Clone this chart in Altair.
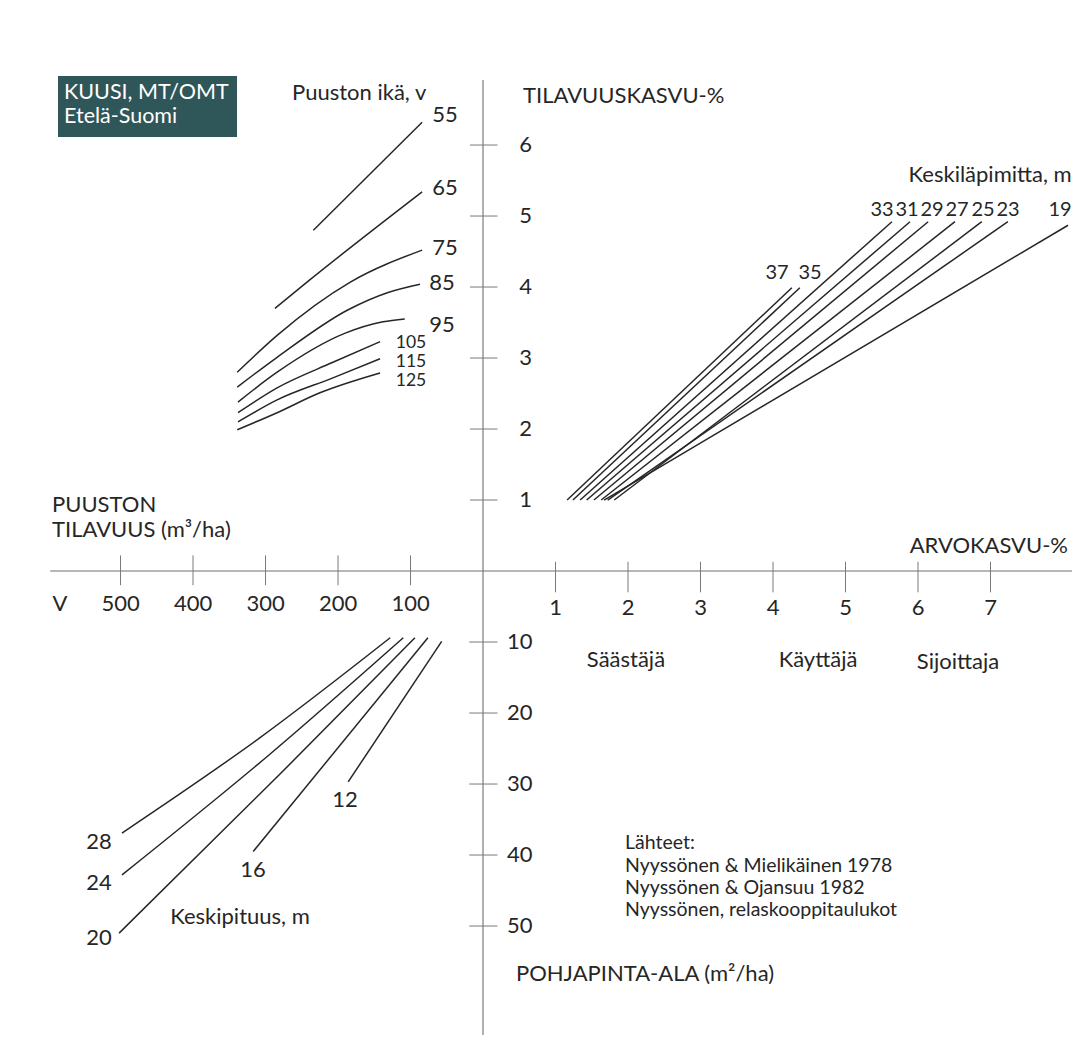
import altair as alt
import pandas as pd

# ---------------- data ----------------
# Upper-left quadrant: stand age curves, volume V (m3/ha) vs tilavuuskasvu-%
age_labels = ["55", "65", "75", "85", "95", "105", "115", "125"]
age_V = [
    [234, 84],
    [287, 239, 84],
    [339, 284, 183, 84],
    [339, 284, 186, 132, 87],
    [338, 284, 190, 138, 108],
    [338, 284, 207, 142],
    [338, 284, 207, 142],
    [339, 284, 225, 142],
]
age_p = [
    [4.80, 6.32],
    [3.70, 4.10, 5.34],
    [2.80, 3.32, 4.07, 4.52],
    [2.59, 3.01, 3.68, 3.92, 4.04],
    [2.38, 2.80, 3.35, 3.51, 3.55],
    [2.23, 2.58, 2.94, 3.23],
    [2.10, 2.41, 2.72, 2.99],
    [1.99, 2.23, 2.51, 2.79],
]

# Upper-right quadrant: mean diameter lines, arvokasvu-% vs tilavuuskasvu-%
dia_labels = ["37", "35", "33", "31", "29", "27", "25", "23", "19"]
dia_a_start = [1.16, 1.24, 1.34, 1.43, 1.53, 1.63, 1.81, 1.72, 1.67]
dia_p_start = [1.0, 1.0, 1.0, 1.0, 1.0, 1.0, 1.0, 1.0, 1.0]
dia_a_end = [4.26, 4.37, 5.64, 5.89, 6.14, 6.51, 6.88, 7.24, 8.07]
dia_p_end = [3.99, 3.99, 4.92, 4.92, 4.92, 4.92, 4.92, 4.92, 4.87]

# Lower-left quadrant: mean height lines, volume V vs basal area G (m2/ha)
hgt_labels = ["28", "24", "20", "16", "12"]
hgt_V = [[128, 308, 498], [110, 294, 498], [94, 280, 502], [76, 317], [57, 186]]
hgt_G = [[9.4, 23.5, 36.9], [9.4, 25.8, 42.8], [9.4, 28.6, 51.0], [9.4, 39.5], [9.9, 29.7]]

# Axis tick values
vol_ticks = [100, 200, 300, 400, 500]
growth_ticks = [1, 2, 3, 4, 5, 6]
value_ticks = [1, 2, 3, 4, 5, 6, 7]
ba_ticks = [10, 20, 30, 40, 50]

# ---------------- build tables (common nomogram frame) ----------------
rows = []
for lab, vs, ps in zip(age_labels, age_V, age_p):
    for v, p in zip(vs, ps):
        rows.append({"s": "age" + lab, "x": -v / 100, "y": p})
for lab, a0, p0, a1, p1 in zip(dia_labels, dia_a_start, dia_p_start, dia_a_end, dia_p_end):
    rows.append({"s": "dia" + lab, "x": a0, "y": p0})
    rows.append({"s": "dia" + lab, "x": a1, "y": p1})
for lab, vs, gs in zip(hgt_labels, hgt_V, hgt_G):
    for v, g in zip(vs, gs):
        rows.append({"s": "hgt" + lab, "x": -v / 100, "y": -g / 10})
curves = pd.DataFrame(rows)

XS = alt.Scale(domain=[-6.552, 8.124], nice=False, zero=False)
YS = alt.Scale(domain=[-6.549, 7.930], nice=False, zero=False)
FONT = "Lato"
INK = "#262626"

def X(f="x"):
    return alt.X(f + ":Q", scale=XS, axis=None)

def Y(f="y"):
    return alt.Y(f + ":Q", scale=YS, axis=None)

layers = []

# axis lines
axes = pd.DataFrame([
    {"x": -5.97, "x2": 8.124, "y": 0.0, "y2": 0.0},
    {"x": 0.0, "x2": 0.0, "y": 6.915, "y2": -6.535},
])
layers.append(alt.Chart(axes).mark_rule(color="#707070", strokeWidth=1.1).encode(
    x=X(), x2="x2:Q", y=Y(), y2="y2:Q"))

# ticks
tk = []
for p in growth_ticks:
    tk.append({"x": -0.18, "x2": 0.2, "y": p, "y2": p})
for g in ba_ticks:
    tk.append({"x": -0.19, "x2": 0.2, "y": -g / 10, "y2": -g / 10})
for a in value_ticks:
    tk.append({"x": a, "x2": a, "y": 0.13, "y2": -0.3})
for v in vol_ticks:
    tk.append({"x": -v / 100, "x2": -v / 100, "y": 0.22, "y2": -0.2})
layers.append(alt.Chart(pd.DataFrame(tk)).mark_rule(color="#7a7a7a", strokeWidth=1).encode(
    x=X(), x2="x2:Q", y=Y(), y2="y2:Q"))

# curves
layers.append(alt.Chart(curves).mark_line(color=INK, strokeWidth=1.5, interpolate="monotone").encode(
    x=X(), y=Y(), detail="s:N", order="x:Q"))

# title box
box = pd.DataFrame([{"x": -5.862, "x2": -3.393, "y": 6.972, "y2": 6.113}])
layers.append(alt.Chart(box).mark_rect(color="#2f5659").encode(x=X(), x2="x2:Q", y=Y(), y2="y2:Q"))


def text_layer(recs, size=22, align="left", baseline="middle", color=INK, dx=0):
    df = pd.DataFrame(recs, columns=["x", "y", "t"])
    return alt.Chart(df).mark_text(font=FONT, fontSize=size, align=align, baseline=baseline,
                                   color=color, dx=dx).encode(x=X(), y=Y(), text="t:N")

# title box text
layers.append(text_layer([(-5.779, 6.732, "KUUSI, MT/OMT"), (-5.779, 6.394, "Etelä-Suomi")],
                         size=21.5, color="#ffffff"))

# tick labels
layers.append(text_layer([(0.50, p, str(p)) for p in growth_ticks], size=22))
layers.append(text_layer([(0.33, -g / 10, str(g)) for g in ba_ticks], size=22))
layers.append(text_layer([(a, -0.52, str(a)) for a in value_ticks], size=22, align="center"))
layers.append(text_layer([(-v / 100, -0.465, str(v)) for v in vol_ticks] + [(-5.834, -0.465, "V")],
                         size=22, align="center"))

# axis titles and notes
layers.append(text_layer([
    (-2.634, 6.732, "Puuston ikä, v"),
    (0.552, 6.690, "TILAVUUSKASVU-%"),
    (-5.945, 0.930, "PUUSTON"),
    (-5.945, 0.577, "TILAVUUS (m³/ha)"),
    (0.455, -5.676, "POHJAPINTA-ALA (m²/ha)"),
], size=22))
layers.append(text_layer([(8.069, 0.352, "ARVOKASVU-%"), (8.12, 5.577, "Keskiläpimitta, m")],
                         size=22, align="right"))
layers.append(text_layer([
    (1.972, -1.254, "Säästäjä"),
    (4.621, -1.254, "Käyttäjä"),
    (6.552, -1.282, "Sijoittaja"),
    (-3.352, -4.873, "Keskipituus, m"),
], size=22, align="center"))
layers.append(text_layer([
    (1.959, -3.831, "Lähteet:"),
    (1.959, -4.155, "Nyyssönen & Mielikäinen 1978"),
    (1.959, -4.465, "Nyyssönen & Ojansuu 1982"),
    (1.959, -4.775, "Nyyssönen, relaskooppitaulukot"),
], size=19.5))

# curve labels
age_pos = [(-0.524, 6.423), (-0.524, 5.394), (-0.524, 4.549), (-0.566, 4.056), (-0.566, 3.465)]
age_pos_small = [(-0.993, 3.211), (-0.993, 2.944), (-0.993, 2.676)]
dia_pos = [(4.055, 4.197), (4.510, 4.197), (5.503, 5.085), (5.848, 5.085), (6.193, 5.085),
           (6.538, 5.085), (6.897, 5.085), (7.241, 5.085), (7.959, 5.085)]
hgt_pos = [(-5.297, -3.817), (-5.297, -4.394), (-5.297, -5.169), (-3.172, -4.211), (-1.903, -3.225)]
layers.append(text_layer([(x, y, t) for (x, y), t in zip(age_pos, age_labels[:5])], size=22, align="center"))
layers.append(text_layer([(x, y, t) for (x, y), t in zip(age_pos_small, age_labels[5:])], size=17.5,
                         align="center"))
layers.append(text_layer([(x, y, t) for (x, y), t in zip(dia_pos, dia_labels)], size=20, align="center"))
layers.append(text_layer([(x, y, t) for (x, y), t in zip(hgt_pos, hgt_labels)], size=22, align="center"))

chart = alt.layer(*layers).properties(
    width=1064, height=1028, padding=0,
    autosize=alt.AutoSizeParams(type="none"),
    background="#ffffff",
).configure_view(stroke=None)

chart.save("out.html", embed_options={"renderer": "svg", "actions": False})
